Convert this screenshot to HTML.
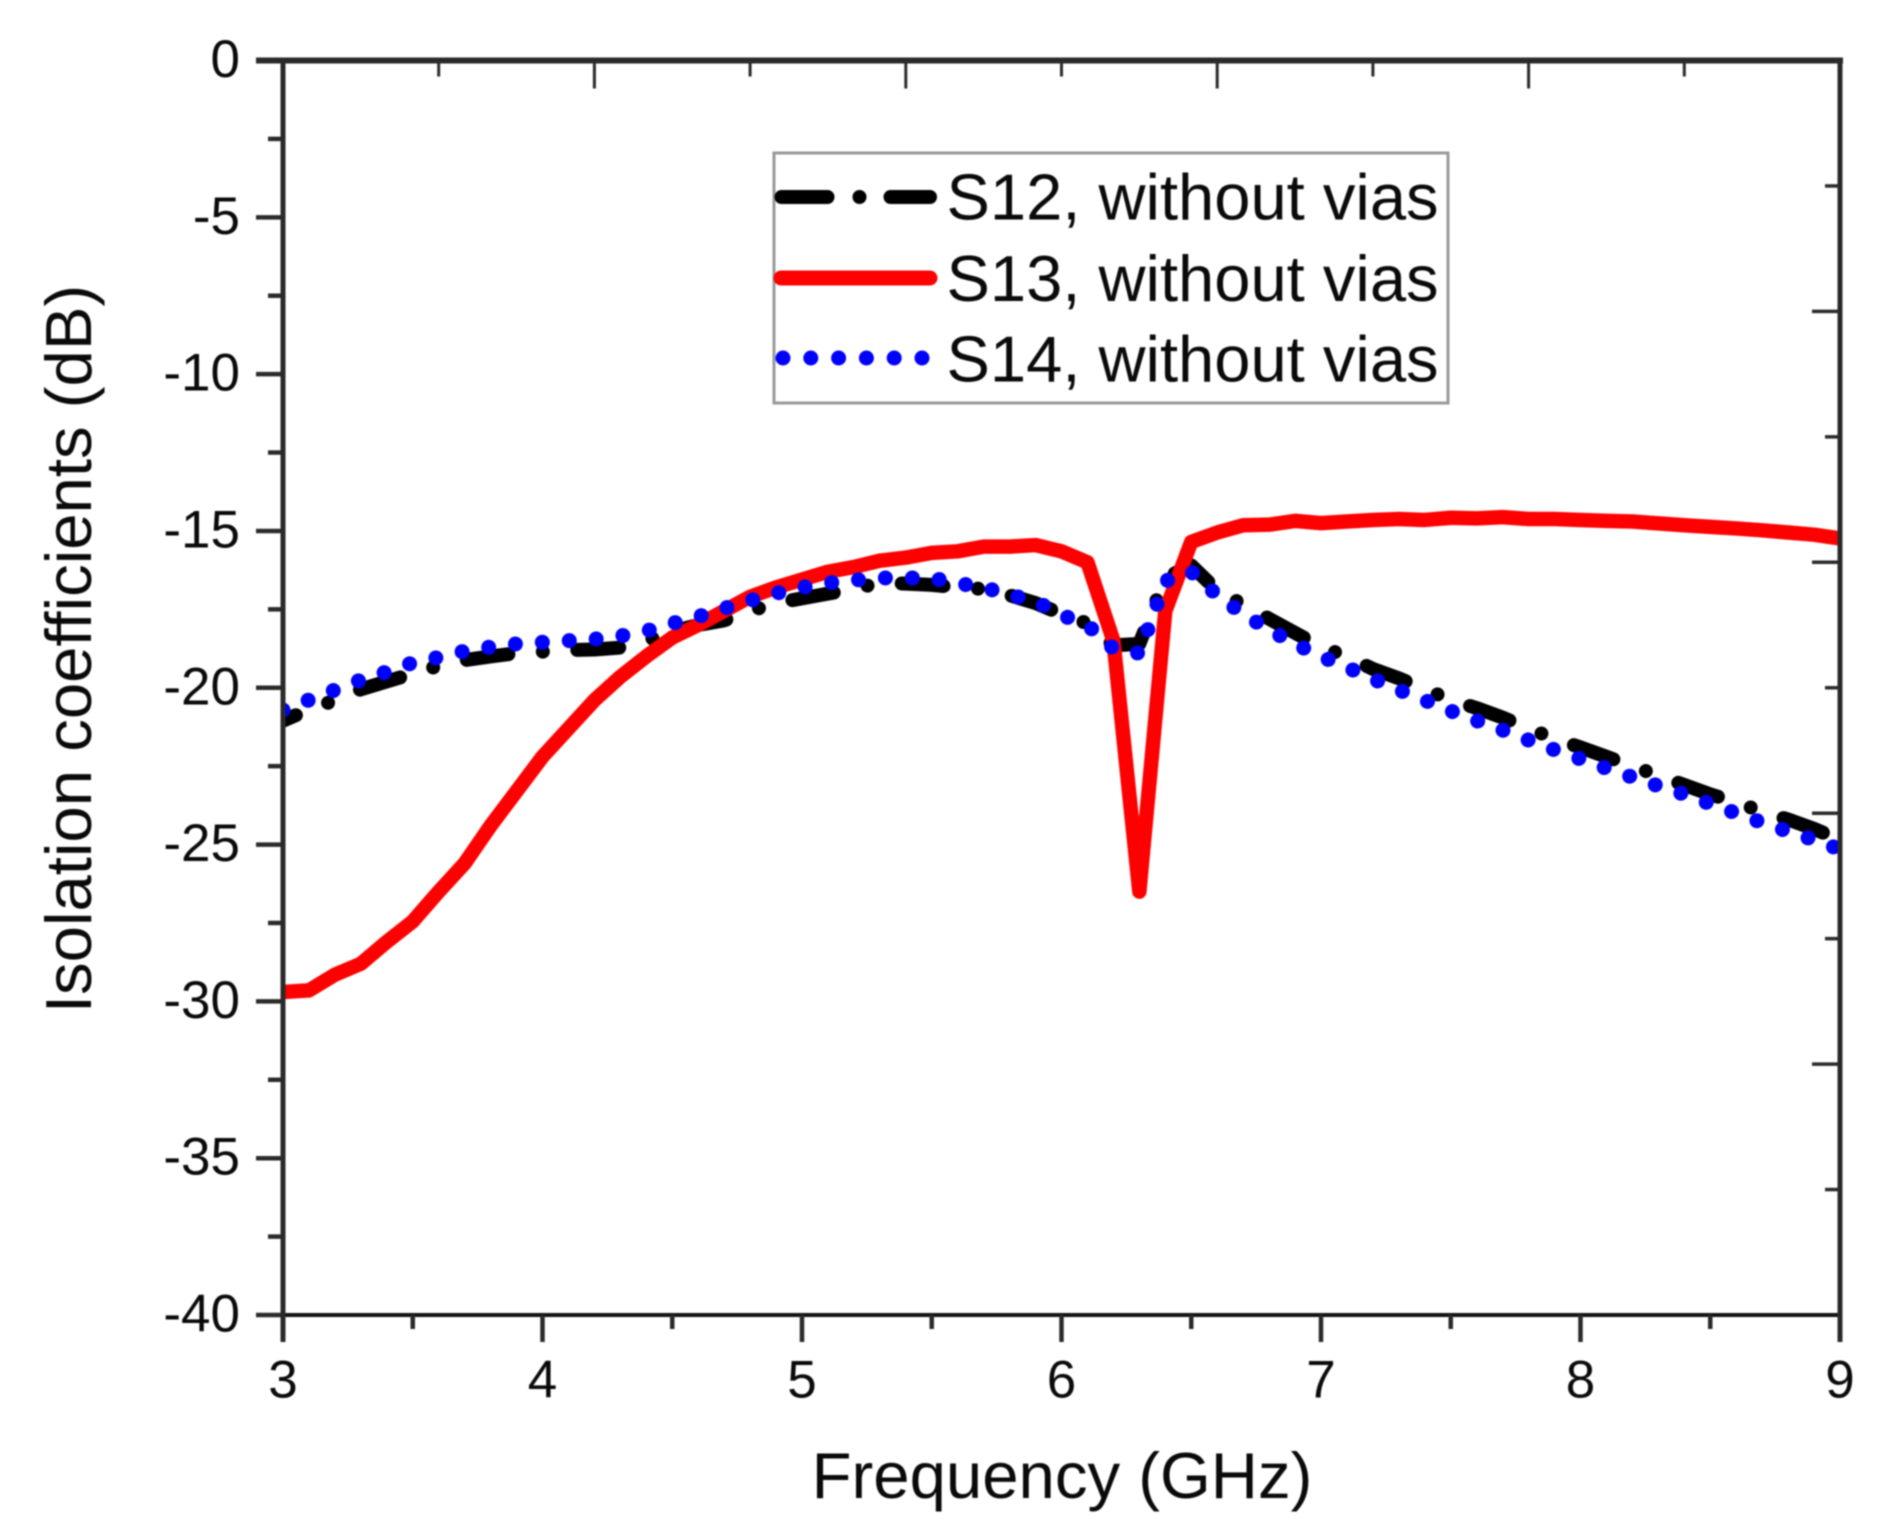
<!DOCTYPE html>
<html lang="en">
<head>
<meta charset="utf-8">
<title>Isolation coefficients chart</title>
<style>
html,body{margin:0;padding:0;background:#fff;}
svg{display:block;width:1890px;height:1536px;filter:blur(0.7px);}
text{font-family:"Liberation Sans",Arial,sans-serif;fill:#0a0a0a;}
</style>
</head>
<body>
<svg id="chart" xmlns="http://www.w3.org/2000/svg" width="1890" height="1536" viewBox="0 0 1890 1536">
  <defs>
    <clipPath id="plot-clip"><rect x="283" y="60.5" width="1557" height="1254.5"/></clipPath>
  </defs>
  <rect x="0" y="0" width="1890" height="1536" fill="#fff"/>
  <g id="series" clip-path="url(#plot-clip)"></g>
  <g id="axes"></g>
  <text x="1062" y="1498" font-size="65.3" text-anchor="middle">Frequency (GHz)</text>
  <text transform="translate(91 649) rotate(-90)" font-size="65.3" text-anchor="middle">Isolation coefficients (dB)</text>
  <g>
    <rect x="774" y="153" width="674" height="250" fill="#fff" stroke="#999" stroke-width="3"/>
    <line x1="781.5" y1="197" x2="930" y2="197" stroke="#000" stroke-width="14" stroke-linecap="round" stroke-dasharray="46 32 0.01 31 46"/>
    <text x="946.5" y="219.5" font-size="65.1">S12, without vias</text>
    <line x1="781" y1="278" x2="930" y2="278" stroke="#f00" stroke-width="15" stroke-linecap="round"/>
    <text x="946.5" y="301" font-size="65.1">S13, without vias</text>
    <line x1="783" y1="358" x2="923" y2="358" stroke="#00f" stroke-width="15" stroke-linecap="round" stroke-dasharray="0.01 27.79"/>
    <text x="946.5" y="381.5" font-size="65.1">S14, without vias</text>
  </g>
</svg>
<script>
const frequencies = [3.0,3.1,3.2,3.3,3.4,3.5,3.6,3.7,3.8,3.9,4.0,4.1,4.2,4.3,4.4,4.5,4.6,4.7,4.8,4.9,5.0,5.1,5.2,5.3,5.4,5.5,5.6,5.7,5.8,5.9,6.0,6.1,6.2,6.3,6.4,6.5,6.6,6.7,6.8,6.9,7.0,7.1,7.2,7.3,7.4,7.5,7.6,7.7,7.8,7.9,8.0,8.1,8.2,8.3,8.4,8.5,8.6,8.7,8.8,8.9,9.0];
const s12 = [-21.05,-20.7,-20.4,-20.05,-19.8,-19.55,-19.3,-19.12,-19.0,-18.9,-18.85,-18.8,-18.78,-18.72,-18.5,-18.2,-18.0,-17.85,-17.55,-17.3,-17.15,-17.0,-16.85,-16.65,-16.68,-16.72,-16.8,-16.85,-17.05,-17.3,-17.65,-17.95,-18.65,-18.6,-16.5,-16.1,-16.9,-17.35,-17.8,-18.25,-18.7,-19.0,-19.4,-19.7,-20.05,-20.38,-20.65,-20.95,-21.3,-21.62,-21.9,-22.2,-22.5,-22.8,-23.1,-23.4,-23.65,-23.95,-24.2,-24.5,-24.85];
const s13 = [-29.7,-29.65,-29.15,-28.8,-28.1,-27.45,-26.5,-25.6,-24.4,-23.3,-22.2,-21.3,-20.4,-19.65,-19.0,-18.4,-18.0,-17.55,-17.1,-16.8,-16.55,-16.3,-16.15,-15.95,-15.85,-15.7,-15.65,-15.5,-15.5,-15.45,-15.65,-16.0,-18.5,-26.5,-17.55,-15.35,-15.05,-14.82,-14.8,-14.68,-14.75,-14.7,-14.65,-14.62,-14.65,-14.58,-14.6,-14.56,-14.62,-14.62,-14.65,-14.68,-14.7,-14.76,-14.82,-14.87,-14.92,-14.98,-15.05,-15.12,-15.24];
const s14 = [-20.71,-20.39,-20.07,-19.75,-19.49,-19.2,-19.03,-18.83,-18.7,-18.6,-18.55,-18.5,-18.45,-18.35,-18.19,-17.95,-17.73,-17.47,-17.22,-16.99,-16.8,-16.66,-16.57,-16.5,-16.5,-16.5,-16.67,-16.8,-17.04,-17.24,-17.68,-18.0,-18.75,-18.9,-16.6,-16.3,-17.05,-17.65,-18.15,-18.6,-19.0,-19.35,-19.72,-20.07,-20.4,-20.74,-21.05,-21.35,-21.67,-21.98,-22.27,-22.57,-22.85,-23.13,-23.4,-23.7,-24.0,-24.3,-24.58,-24.85,-25.15];
const xTickValues = [3,3.5,4,4.5,5,5.5,6,6.5,7,7.5,8,8.5,9];
const xTickLabels = ["3","","4","","5","","6","","7","","8","","9"];
const yTickValues = [0,-2.5,-5,-7.5,-10,-12.5,-15,-17.5,-20,-22.5,-25,-27.5,-30,-32.5,-35,-37.5,-40];
const yTickLabels = ["0","","-5","","-10","","-15","","-20","","-25","","-30","","-35","","-40"];
const frameTickDivisions = [1,2,3,4,5,6,7,8,9];

const NS = "http://www.w3.org/2000/svg";
const plotLeft = 283, plotRight = 1840, plotTop = 60.5, plotBottom = 1315;
const xMin = 3, xMax = 9, yMin = -40, yMax = 0;
function xScale(v){ return plotLeft + (v - xMin) / (xMax - xMin) * (plotRight - plotLeft); }
function yScale(v){ return plotTop + (yMax - v) / (yMax - yMin) * (plotBottom - plotTop); }

const axes = document.getElementById("axes");
const seriesGroup = document.getElementById("series");

function makeLine(x1, y1, x2, y2, width, colour){
  const el = document.createElementNS(NS, "line");
  el.setAttribute("x1", x1);
  el.setAttribute("y1", y1);
  el.setAttribute("x2", x2);
  el.setAttribute("y2", y2);
  el.setAttribute("stroke", colour);
  el.setAttribute("stroke-width", width);
  axes.appendChild(el);
  return el;
}
function makeLabel(x, y, anchor, content){
  const el = document.createElementNS(NS, "text");
  el.setAttribute("x", x);
  el.setAttribute("y", y);
  el.setAttribute("font-size", "53");
  el.setAttribute("text-anchor", anchor);
  el.textContent = content;
  axes.appendChild(el);
  return el;
}
function makeSeries(values, colour, width, dash, offset){
  const el = document.createElementNS(NS, "path");
  const d = values.map((v, i) => (i ? "L" : "M") + xScale(frequencies[i]).toFixed(2) + " " + yScale(v).toFixed(2)).join(" ");
  el.setAttribute("d", d);
  el.setAttribute("fill", "none");
  el.setAttribute("stroke", colour);
  el.setAttribute("stroke-width", width);
  el.setAttribute("stroke-linecap", dash ? "round" : "butt");
  el.setAttribute("stroke-linejoin", "round");
  if (dash) {
    el.setAttribute("stroke-dasharray", dash);
    el.setAttribute("stroke-dashoffset", offset);
  }
  seriesGroup.appendChild(el);
  return el;
}

const lineS12 = makeSeries(s12, "#000", 14, "42 34.5 0.01 34.5", 28);


const lineS13 = makeSeries(s13, "#f00", 14.5, "", 0);


const lineS14 = makeSeries(s14, "#00f", 15, "0.01 26.95", 0);



const axisColour = "#2a2a2a";
const topAxis = makeLine(256, plotTop, plotRight + 3, plotTop, 6, axisColour);


const bottomAxis = makeLine(256, plotBottom, plotRight, plotBottom, 4, "#111");


const leftAxis = makeLine(plotLeft, plotTop, plotLeft, plotBottom + 27, 5, axisColour);


const rightAxis = makeLine(plotRight, plotTop, plotRight, plotBottom + 27, 5, axisColour);



xTickValues.forEach((v, i) => {
  const major = xTickLabels[i] !== "";
  const tick = makeLine(xScale(v), plotBottom, xScale(v), plotBottom + (major ? 27 : 14), 4.5, axisColour);
  
  
  if (major) {
    const label = makeLabel(xScale(v), 1397.5, "middle", xTickLabels[i]);
    
    
  }
});
yTickValues.forEach((v, i) => {
  const major = yTickLabels[i] !== "";
  const tick = makeLine(plotLeft - (major ? 27 : 15), yScale(v), plotLeft, yScale(v), 4.5, axisColour);
  
  
  if (major) {
    const label = makeLabel(240, yScale(v) + 16.5, "end", yTickLabels[i]);
    
    
  }
});
frameTickDivisions.forEach((k) => {
  const major = k % 2 === 0;
  const tx = plotLeft + (plotRight - plotLeft) * k / 10;
  const topTick = makeLine(tx, plotTop, tx, plotTop + (major ? 28 : 16), 3, axisColour);
  
  
  const ty = plotTop + (plotBottom - plotTop) * k / 10;
  const rightTick = makeLine(plotRight - (major ? 28 : 15), ty, plotRight, ty, 3.5, axisColour);
  
  
});
</script>
</body>
</html>
